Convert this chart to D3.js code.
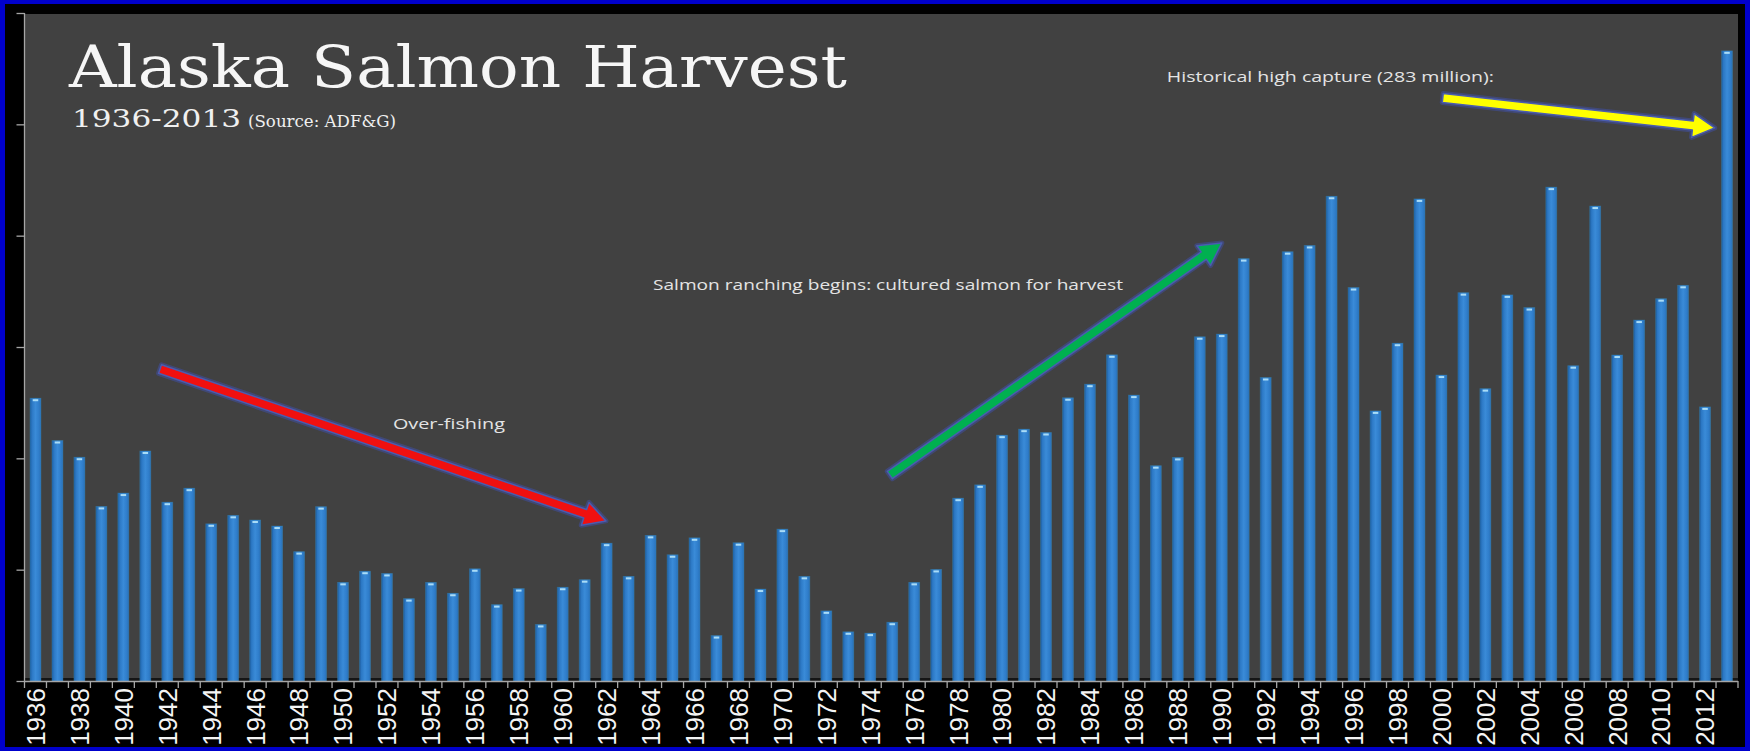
<!DOCTYPE html>
<html>
<head>
<meta charset="utf-8">
<script src="https://cdn.jsdelivr.net/npm/d3@7"></script>
<style>
  html, body { margin: 0; padding: 0; background: #0000cc; }
  svg { display: block; }
</style>
</head>
<body>
<svg id="chart" width="1750" height="751"></svg>
<script>
// ---------- DATA ----------
const years = d3.range(1936, 2014);
const harvest = [
  127, 108, 100.5, 78.4, 84.4, 103.3, 80.3, 86.6, 70.6, 74.4,
  72.3, 69.6, 58.1, 78.3, 44.3, 49.3, 48.3, 37, 44.3, 39.4,
  50.4, 34.3, 41.5, 25.4, 42.1, 45.5, 61.9, 47, 65.4, 56.7,
  64.3, 20.4, 62.1, 41.3, 68.2, 47, 31.5, 22.1, 21.5, 26.4,
  44.3, 50.1, 82.1, 88.1, 110.4, 113.1, 111.6, 127.2, 133.3, 146.5,
  128.4, 96.7, 100.4, 154.6, 155.8, 189.7, 136.3, 192.8, 195.6, 217.7,
  176.7, 121.3, 151.7, 216.5, 137.4, 174.4, 131.3, 173.4, 167.7, 221.8,
  141.6, 213.3, 146.4, 162.1, 171.7, 177.7, 123.1, 283
];
const yTicks = [0, 50, 100, 150, 200, 250, 300];
const labelYears = years.filter(y => y % 2 === 0);

const titleText = "Alaska Salmon Harvest";
const subtitleYears = "1936-2013";
const subtitleSource = "(Source: ADF&G)";

// annotations in data coordinates: [year, value]
const arrowNames = ["overfishing", "ranching", "record"];
const arrowFrom = [[1941.67, 140.1], [1974.89, 92.5], [2000.06, 261.8]];
const arrowTo   = [[1961.97, 71.9], [1990.0, 196.7], [2012.44, 248.4]];
const arrowFill = ["#f01010", "#00b050", "#ffff00"];
const noteTexts = ["Over-fishing", "Salmon ranching begins: cultured salmon for harvest", "Historical high capture (283 million):"];
const notePos   = [[1952.27, 113.2], [1964.11, 175.6], [1987.5, 269.0]];
const noteWidth = [112, 470, 327];

// ---------- LAYOUT ----------
const W = 1750, H = 751;
const plot = { left: 24.5, right: 1738, top: 13, bottom: 681 };

const svg = d3.select("#chart");

const defs = svg.append("defs");
const grad = defs.append("linearGradient").attr("id", "barGrad")
  .attr("x1", "0").attr("x2", "1").attr("y1", "0").attr("y2", "0");
[["0%", "#1d5b9c"], ["18%", "#2c78c4"], ["50%", "#3a8bd8"], ["82%", "#2f7dca"], ["100%", "#2a6fb4"]]
  .forEach(([o, c]) => grad.append("stop").attr("offset", o).attr("stop-color", c));

// background layers
svg.append("rect").attr("x", 0).attr("y", 0).attr("width", W).attr("height", H).attr("fill", "#0000cc");
svg.append("rect").attr("x", 5).attr("y", 4).attr("width", W - 10).attr("height", H - 8).attr("fill", "#000");
svg.append("rect")
  .attr("x", plot.left).attr("y", plot.top + 1)
  .attr("width", plot.right - plot.left).attr("height", plot.bottom - plot.top - 1)
  .attr("fill", "#414141");

// scales
const x = d3.scaleBand().domain(years).range([plot.left, plot.right]).paddingInner(0.5).paddingOuter(0.25);
const y = d3.scaleLinear().domain([0, 300]).range([plot.bottom, plot.top]);
const xYear = d3.scaleLinear().domain([1936, 2013])
  .range([x(1936) + x.bandwidth() / 2, x(2013) + x.bandwidth() / 2]);

// dark floor line between bars
svg.append("rect").attr("x", plot.left).attr("y", plot.bottom - 3)
  .attr("width", plot.right - plot.left).attr("height", 3).attr("fill", "#151515");

// bars
const data = years.map((yr, i) => ({ year: yr, value: harvest[i] }));
const bars = svg.append("g").attr("class", "bars");
bars.selectAll("rect.bar").data(data).join("rect")
  .attr("class", "bar")
  .attr("x", d => x(d.year))
  .attr("y", d => y(d.value))
  .attr("width", x.bandwidth())
  .attr("height", d => y(0) - y(d.value))
  .attr("fill", "url(#barGrad)")
  .attr("stroke", "#3a9cc8").attr("stroke-opacity", 0.35).attr("stroke-width", 0.8);
bars.selectAll("rect.cap").data(data).join("rect")
  .attr("class", "cap")
  .attr("x", d => x(d.year) + x.bandwidth() * 0.25)
  .attr("y", d => y(d.value) + 1)
  .attr("width", x.bandwidth() * 0.5)
  .attr("height", 2)
  .attr("fill", "#a9dcf7");

// axes
const axisColor = "#a6a6a6";
const yAxis = svg.append("g").attr("transform", `translate(${plot.left},0)`)
  .call(d3.axisLeft(y).tickValues(yTicks).tickSize(8).tickFormat(""));
yAxis.selectAll("path, line").attr("stroke", axisColor).attr("stroke-width", 1.3);
yAxis.select("path").attr("d", `M0,${plot.top}V${plot.bottom}`);

const boundaries = years.map(yr => x(yr) - x.step() * x.paddingInner() / 2).concat([plot.right]);
const xTickG = svg.append("g");
xTickG.append("line").attr("x1", plot.left).attr("x2", plot.right)
  .attr("y1", plot.bottom + 0.5).attr("y2", plot.bottom + 0.5)
  .attr("stroke", axisColor).attr("stroke-width", 1.3);
xTickG.selectAll("line.t").data(boundaries).join("line").attr("class", "t")
  .attr("x1", d => d).attr("x2", d => d)
  .attr("y1", plot.bottom).attr("y2", plot.bottom + 7)
  .attr("stroke", axisColor).attr("stroke-width", 1.3);

const xAxis = svg.append("g").attr("transform", `translate(0,${plot.bottom})`)
  .call(d3.axisBottom(x).tickValues(labelYears).tickSize(0).tickPadding(0));
xAxis.select("path").remove();
xAxis.selectAll("text")
  .attr("transform", "rotate(-90)")
  .attr("x", -7).attr("y", 0).attr("dy", "0.36em")
  .style("text-anchor", "end")
  .attr("fill", "#f4f4f4")
  .style("font-family", "'Liberation Sans', Arial, sans-serif")
  .style("font-size", "26px");

// arrows
function arrowPoly(x1, y1, x2, y2, shaft, headL, headW) {
  const dx = x2 - x1, dy = y2 - y1, L = Math.hypot(dx, dy);
  const ux = dx / L, uy = dy / L, nx = -uy, ny = ux;
  const bx = x2 - ux * headL, by = y2 - uy * headL;
  const p = [
    [x1 + nx * shaft / 2, y1 + ny * shaft / 2],
    [bx + nx * shaft / 2, by + ny * shaft / 2],
    [bx + nx * headW / 2, by + ny * headW / 2],
    [x2, y2],
    [bx - nx * headW / 2, by - ny * headW / 2],
    [bx - nx * shaft / 2, by - ny * shaft / 2],
    [x1 - nx * shaft / 2, y1 - ny * shaft / 2]
  ];
  return "M" + p.map(q => q.join(",")).join("L") + "Z";
}
const arrows = svg.append("g");
arrowNames.forEach((n, i) => {
  const [fx, fv] = arrowFrom[i], [tx, tv] = arrowTo[i];
  const d = arrowPoly(xYear(fx), y(fv), xYear(tx), y(tv), 9, 22, 24);
  arrows.append("path").attr("d", d).attr("fill", "none")
    .attr("stroke", "#3f4fa0").attr("stroke-opacity", 0.55).attr("stroke-width", 5).attr("stroke-linejoin", "round");
  arrows.append("path").attr("d", d).attr("fill", arrowFill[i])
    .attr("stroke", "#4a5cb0").attr("stroke-width", 1.5).attr("stroke-linejoin", "round");
});

// annotation texts
noteTexts.forEach((t, i) => {
  svg.append("text")
    .attr("x", xYear(notePos[i][0])).attr("y", y(notePos[i][1]))
    .attr("textLength", noteWidth[i]).attr("lengthAdjust", "spacingAndGlyphs")
    .attr("fill", "#e4e4e4")
    .style("font-family", "'Open Sans', 'Noto Sans', sans-serif")
    .style("font-size", "14.5px")
    .text(t);
});

// title
svg.append("text").attr("x", 69).attr("y", 87)
  .attr("textLength", 778).attr("lengthAdjust", "spacingAndGlyphs")
  .attr("fill", "#f6f6f6")
  .style("font-family", "'DejaVu Serif', 'Liberation Serif', serif")
  .style("font-size", "57px")
  .text(titleText);
svg.append("text").attr("x", 72).attr("y", 127)
  .attr("textLength", 169).attr("lengthAdjust", "spacingAndGlyphs")
  .attr("fill", "#f0f0f0")
  .style("font-family", "'DejaVu Serif', 'Liberation Serif', serif")
  .style("font-size", "24px")
  .text(subtitleYears);
svg.append("text").attr("x", 248).attr("y", 127)
  .attr("textLength", 148).attr("lengthAdjust", "spacingAndGlyphs")
  .attr("fill", "#f0f0f0")
  .style("font-family", "'DejaVu Serif', 'Liberation Serif', serif")
  .style("font-size", "16px")
  .text(subtitleSource);
</script>
</body>
</html>
